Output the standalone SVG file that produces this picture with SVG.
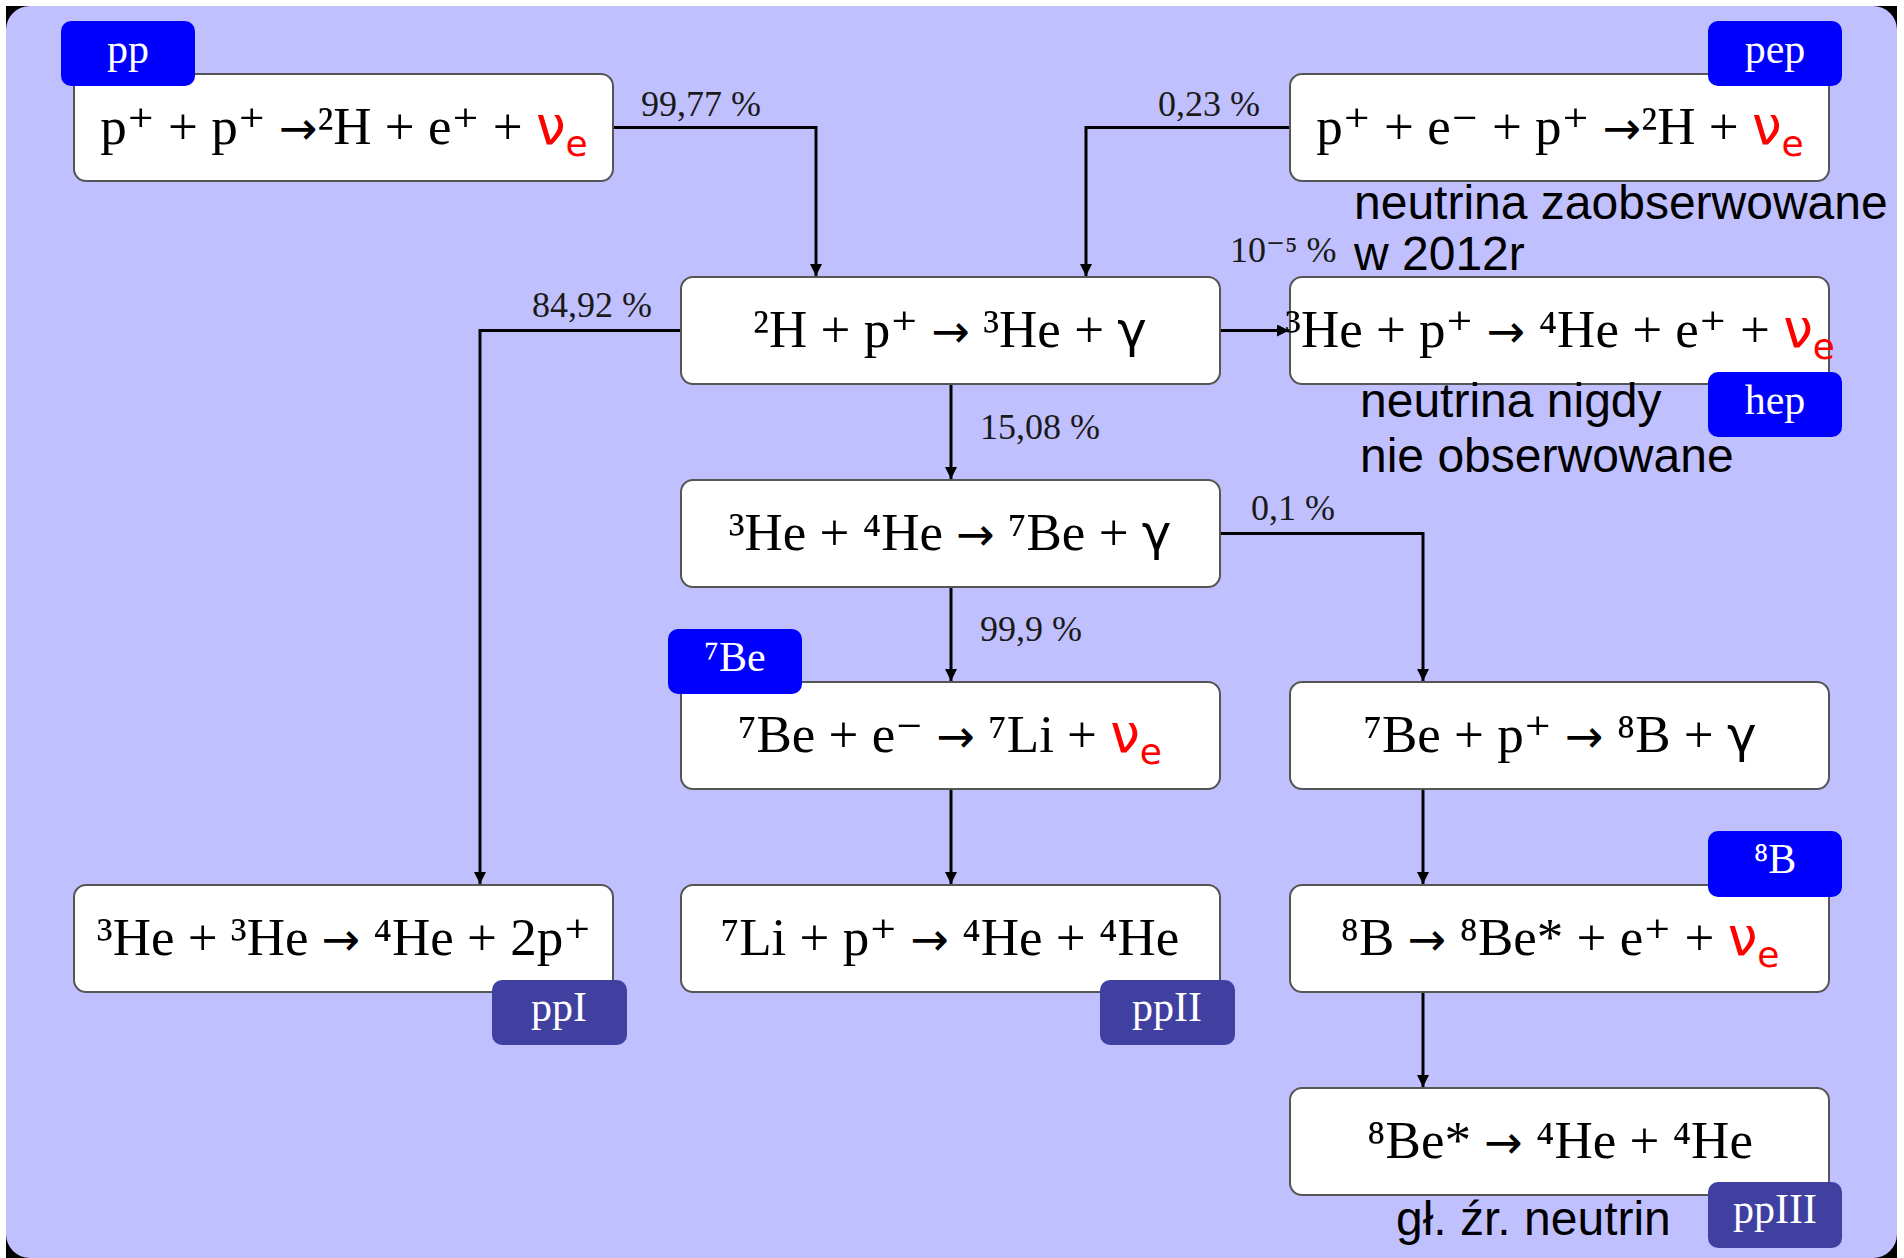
<svg xmlns="http://www.w3.org/2000/svg" width="1904" height="1258" viewBox="0 0 1904 1258">
<defs>
<style>
.box{fill:#ffffff;stroke:#555555;stroke-width:2}
.eq{font-family:"Liberation Serif","DejaVu Serif",serif;font-size:53px;fill:#000;text-anchor:middle}
.ar{font-family:"DejaVu Sans",sans-serif;font-size:46px}
.g{font-family:"DejaVu Sans",sans-serif;font-size:50px}
.nu{font-family:"DejaVu Sans",sans-serif;fill:#ff0000}
.pct{font-family:"Liberation Serif","DejaVu Serif",serif;font-size:36px;fill:#1a1a1a}
.tagb{fill:#0000ff}
.tagd{fill:#4040a0}
.tt{font-family:"Liberation Serif","DejaVu Serif",serif;font-size:42px;fill:#ffffff;text-anchor:middle}
.note{font-family:"Liberation Sans",Arial,sans-serif;font-size:48px;fill:#000}
.conn{fill:none;stroke:#000;stroke-width:3}
</style>
<marker id="ah" viewBox="0 0 10 10" refX="10" refY="5" markerWidth="4" markerHeight="4" orient="auto" markerUnits="strokeWidth">
<path d="M0,0 L10,5 L0,10 z" fill="#000"/>
</marker>
</defs>
<rect x="6" y="6" width="1891" height="1252" fill="#000"/>
<rect x="6" y="6" width="1891" height="1252" rx="24" ry="24" fill="#c0c0ff"/>

<g id="connectors">
<path class="conn" d="M613,127.5 H816 V276" marker-end="url(#ah)"/>
<path class="conn" d="M1290,127.5 H1086 V276" marker-end="url(#ah)"/>
<path class="conn" d="M681,330.5 H480 V884" marker-end="url(#ah)"/>
<path class="conn" d="M1220,330.5 H1289" marker-end="url(#ah)"/>
<path class="conn" d="M951,384 V479" marker-end="url(#ah)"/>
<path class="conn" d="M951,587 V681" marker-end="url(#ah)"/>
<path class="conn" d="M1220,533.5 H1423 V681" marker-end="url(#ah)"/>
<path class="conn" d="M951,789 V884" marker-end="url(#ah)"/>
<path class="conn" d="M1423,789 V884" marker-end="url(#ah)"/>
<path class="conn" d="M1423,992 V1087" marker-end="url(#ah)"/>
<text class="pct" x="641" y="116">99,77 %</text>
<text class="pct" x="1158" y="116">0,23 %</text>
<text class="pct" x="532" y="317">84,92 %</text>
<text class="pct" x="1230" y="262">10⁻⁵ %</text>
<text class="pct" x="980" y="439">15,08 %</text>
<text class="pct" x="980" y="641">99,9 %</text>
<text class="pct" x="1251" y="520">0,1 %</text>
</g>

<g id="n-pp">
<rect class="box" x="74" y="74" width="539" height="107" rx="12"/>
<text class="eq" x="344" y="144">p⁺ + p⁺ <tspan class="ar">→</tspan>²H + e⁺ + <tspan class="nu">ν</tspan><tspan class="nu" font-size="36" dy="12">e</tspan></text>
<rect class="tagb" x="61" y="21" width="134" height="65" rx="10"/>
<text class="tt" x="128" y="63">pp</text>
</g>

<g id="n-pep">
<rect class="box" x="1290" y="74" width="539" height="107" rx="12"/>
<text class="eq" x="1560" y="144">p⁺ + e⁻ + p⁺ <tspan class="ar">→</tspan>²H + <tspan class="nu">ν</tspan><tspan class="nu" font-size="36" dy="12">e</tspan></text>
<rect class="tagb" x="1708" y="21" width="134" height="65" rx="10"/>
<text class="tt" x="1775" y="63">pep</text>
</g>

<g id="n-dp">
<rect class="box" x="681" y="277" width="539" height="107" rx="12"/>
<text class="eq" x="950" y="347">²H + p⁺ <tspan class="ar">→</tspan> ³He + <tspan class="g">γ</tspan></text>
</g>

<g id="n-hep">
<rect class="box" x="1290" y="277" width="539" height="107" rx="12"/>
<text class="eq" x="1560" y="347">³He + p⁺ <tspan class="ar">→</tspan> ⁴He + e⁺ + <tspan class="nu">ν</tspan><tspan class="nu" font-size="36" dy="12">e</tspan></text>
<rect class="tagb" x="1708" y="372" width="134" height="65" rx="10"/>
<text class="tt" x="1775" y="414">hep</text>
</g>

<g id="n-he34">
<rect class="box" x="681" y="480" width="539" height="107" rx="12"/>
<text class="eq" x="950" y="550">³He + ⁴He <tspan class="ar">→</tspan> ⁷Be + <tspan class="g">γ</tspan></text>
</g>

<g id="n-be7e">
<rect class="box" x="681" y="682" width="539" height="107" rx="12"/>
<text class="eq" x="950" y="752">⁷Be + e⁻ <tspan class="ar">→</tspan> ⁷Li + <tspan class="nu">ν</tspan><tspan class="nu" font-size="36" dy="12">e</tspan></text>
<rect class="tagb" x="668" y="629" width="134" height="65" rx="10"/>
<text class="tt" x="735" y="671">⁷Be</text>
</g>

<g id="n-be7p">
<rect class="box" x="1290" y="682" width="539" height="107" rx="12"/>
<text class="eq" x="1560" y="752">⁷Be + p⁺ <tspan class="ar">→</tspan> ⁸B + <tspan class="g">γ</tspan></text>
</g>

<g id="n-he33">
<rect class="box" x="74" y="885" width="539" height="107" rx="12"/>
<text class="eq" x="344" y="955">³He + ³He <tspan class="ar">→</tspan> ⁴He + 2p⁺</text>
<rect class="tagd" x="492" y="980" width="135" height="65" rx="10"/>
<text class="tt" x="559" y="1021">ppI</text>
</g>

<g id="n-li7">
<rect class="box" x="681" y="885" width="539" height="107" rx="12"/>
<text class="eq" x="950" y="955">⁷Li + p⁺ <tspan class="ar">→</tspan> ⁴He + ⁴He</text>
<rect class="tagd" x="1100" y="980" width="135" height="65" rx="10"/>
<text class="tt" x="1167" y="1021">ppII</text>
</g>

<g id="n-b8">
<rect class="box" x="1290" y="885" width="539" height="107" rx="12"/>
<text class="eq" x="1560" y="955">⁸B <tspan class="ar">→</tspan> ⁸Be* + e⁺ + <tspan class="nu">ν</tspan><tspan class="nu" font-size="36" dy="12">e</tspan></text>
<rect class="tagb" x="1708" y="831" width="134" height="66" rx="10"/>
<text class="tt" x="1775" y="873">⁸B</text>
</g>

<g id="n-be8">
<rect class="box" x="1290" y="1088" width="539" height="107" rx="12"/>
<text class="eq" x="1560" y="1158">⁸Be* <tspan class="ar">→</tspan> ⁴He + ⁴He</text>
<rect class="tagd" x="1708" y="1182" width="134" height="66" rx="10"/>
<text class="tt" x="1775" y="1223">ppIII</text>
</g>

<g id="notes">
<text class="note" x="1354" y="219">neutrina zaobserwowane</text>
<text class="note" x="1354" y="270">w 2012r</text>
<text class="note" x="1360" y="417">neutrina nigdy</text>
<text class="note" x="1360" y="472">nie obserwowane</text>
<text class="note" x="1396" y="1235">gł. źr. neutrin</text>
</g>
</svg>
